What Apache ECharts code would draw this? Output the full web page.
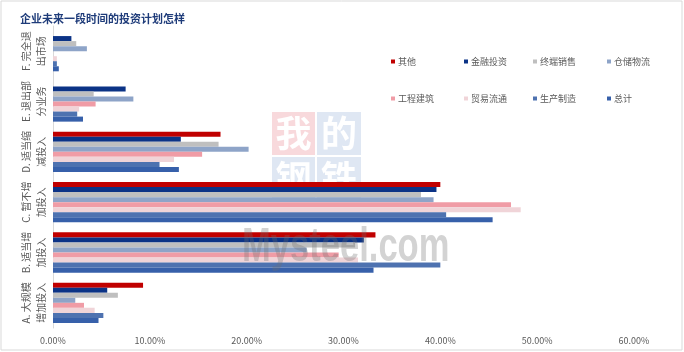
<!DOCTYPE html>
<html>
<head>
<meta charset="utf-8">
<script src="https://cdn.jsdelivr.net/npm/echarts@6/dist/echarts.min.js"></script>
<style>
  html, body { margin: 0; padding: 0; background: #fff; }
  #chart { width: 684px; height: 352px; }
</style>
</head>
<body>
<div id="chart"></div>
<script>
// 类目（自上而下）
const categories = [
  'F. 完全退\n出市场',
  'E. 退出部\n分业务',
  'D. 适当缩\n减投入',
  'C. 暂不增\n加投入',
  'B. 适当增\n加投入',
  'A. 大规模\n增加投入'
]
const seriesNames = ['其他', '金融投资', '终端销售', '仓储物流', '工程建筑', '贸易流通', '生产制造', '总计']
// 各行业占比 (%)，顺序同 categories
const qita = [0, 0, 17.3, 40.0, 33.3, 9.3]
const jinrong = [1.9, 7.5, 13.2, 39.6, 32.1, 5.6]
const zhongduan = [2.4, 4.2, 17.1, 38.0, 31.2, 6.7]
const cangchu = [3.5, 8.3, 20.2, 39.3, 26.2, 2.3]
const gongcheng = [0, 4.4, 15.4, 47.3, 29.5, 3.2]
const maoyi = [0.4, 2.7, 12.5, 48.3, 31.5, 4.3]
const shengchan = [0.4, 2.5, 11.0, 40.6, 40.0, 5.2]
const zongji = [0.6, 3.1, 13.0, 45.4, 33.1, 4.7]
const xTicks = [0, 10, 20, 30, 40, 50, 60]

const seriesData = [qita, jinrong, zhongduan, cangchu, gongcheng, maoyi, shengchan, zongji]
const colors = ['#C00000', '#0B3386', '#BFBFBF', '#8EA4C8', '#F09CA6', '#F0D4D8', '#4E72B0', '#3760AA']

const myChart = echarts.init(document.getElementById('chart'))

// 图例 4 列 x 2 行
const legendLeft = [386, 459, 528, 602]
const legendTop = [52, 89]
const legends = seriesNames.map((name, i) => ({
  data: [name],
  icon: 'rect',
  itemWidth: 4,
  itemHeight: 4,
  left: legendLeft[i % 4],
  top: legendTop[Math.floor(i / 4)],
  textStyle: { color: '#595959', fontSize: 9, padding: [0, 0, 0, -2] }
}))

const wmFont = 'bold 36px "Noto Sans CJK SC"'

myChart.setOption({
  color: colors,
  textStyle: { fontFamily: 'Noto Sans CJK SC' },
  title: {
    text: '企业未来一段时间的投资计划怎样',
    left: 15,
    top: 8,
    textStyle: { color: '#1F3C7A', fontSize: 11, fontWeight: 'bold' }
  },
  legend: legends,
  grid: { left: 53, right: 50, top: 26, bottom: 24 },
  xAxis: {
    type: 'value',
    min: xTicks[0],
    max: xTicks[xTicks.length - 1],
    interval: 10,
    axisLine: { show: false },
    axisTick: { show: false },
    splitLine: { show: false },
    axisLabel: {
      color: '#595959',
      fontSize: 9,
      margin: 8,
      formatter: v => v.toFixed(2) + '%'
    }
  },
  yAxis: {
    type: 'category',
    inverse: true,
    data: categories,
    axisTick: { show: false },
    axisLine: { show: true, lineStyle: { color: '#D9D9D9' } },
    axisLabel: {
      rotate: 90,
      align: 'center',
      verticalAlign: 'bottom',
      margin: 4,
      color: '#595959',
      fontSize: 10,
      lineHeight: 15,
      interval: 0
    }
  },
  series: seriesNames.map((name, i) => ({
    name,
    type: 'bar',
    data: seriesData[i],
    barGap: '0%',
    barCategoryGap: '20%',
    itemStyle: { color: colors[i] }
  })),
  graphic: [
    // 外框
    { type: 'rect', shape: { x: 1, y: 1, width: 681, height: 349 }, style: { fill: 'none', stroke: '#D9D9D9', lineWidth: 1 }, z: 0 },
    // 水印
    { type: 'rect', shape: { x: 272, y: 112, width: 43, height: 43 }, style: { fill: 'rgba(240,170,178,0.45)' }, z: 0 },
    { type: 'rect', shape: { x: 317, y: 112, width: 44, height: 43 }, style: { fill: 'rgba(185,202,228,0.45)' }, z: 0 },
    { type: 'rect', shape: { x: 272, y: 157, width: 43, height: 43 }, style: { fill: 'rgba(185,202,228,0.45)' }, z: 0 },
    { type: 'rect', shape: { x: 317, y: 157, width: 44, height: 43 }, style: { fill: 'rgba(185,202,228,0.45)' }, z: 0 },
    { type: 'text', x: 293.5, y: 133.5, style: { text: '我', fill: '#fff', font: wmFont, align: 'center', verticalAlign: 'middle' }, z: 1 },
    { type: 'text', x: 339, y: 133.5, style: { text: '的', fill: '#fff', font: wmFont, align: 'center', verticalAlign: 'middle' }, z: 1 },
    { type: 'text', x: 293.5, y: 178.5, style: { text: '钢', fill: '#fff', font: wmFont, align: 'center', verticalAlign: 'middle' }, z: 1 },
    { type: 'text', x: 339, y: 178.5, style: { text: '铁', fill: '#fff', font: wmFont, align: 'center', verticalAlign: 'middle' }, z: 1 },
    { type: 'text', x: 242, y: 224, scaleX: 0.72, style: { text: 'Mysteel.com', fill: 'rgba(110,110,110,0.3)', font: 'bold 48px "Liberation Sans"', align: 'left', verticalAlign: 'alphabetic' }, z: 100 }
  ]
})
</script>
</body>
</html>
